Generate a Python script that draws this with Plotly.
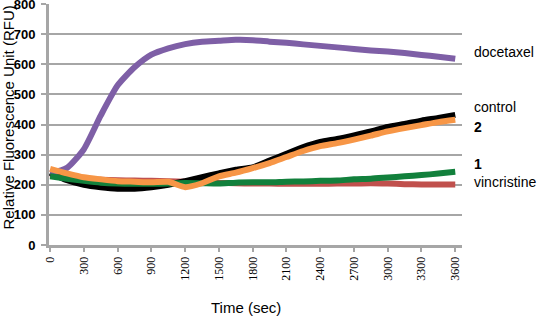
import plotly.graph_objects as go

time_sec = [0, 150, 300, 450, 600, 750, 900, 1050, 1200, 1350, 1500, 1650, 1800,
            1950, 2100, 2250, 2400, 2550, 2700, 2850, 3000, 3150, 3300, 3450, 3600]

docetaxel = [238, 256, 318, 430, 530, 590, 632, 653, 667, 675, 678, 681, 680,
             675, 671, 666, 661, 656, 651, 646, 642, 637, 631, 625, 618]
control = [240, 215, 200, 192, 187, 187, 192, 200, 212, 225, 238, 250, 258,
           280, 303, 325, 342, 352, 364, 377, 392, 402, 413, 422, 432]
cmpd2 = [253, 238, 225, 218, 212, 210, 208, 210, 192, 205, 228, 240, 255,
         272, 292, 312, 328, 338, 350, 363, 377, 388, 398, 408, 416]
cmpd1 = [228, 220, 213, 207, 204, 203, 203, 204, 206, 205, 204, 207, 208,
         208, 210, 211, 213, 214, 218, 220, 224, 228, 232, 237, 243]
vincristine = [235, 226, 220, 217, 215, 214, 213, 212, 210, 208, 206, 205, 204,
               204, 203, 203, 203, 204, 204, 205, 204, 202, 201, 201, 201]

x_ticks = list(range(0, 3601, 300))
y_ticks = list(range(0, 801, 100))

series = [
    ("vincristine", vincristine, "#c0504d"),
    ("control", control, "#000000"),
    ("docetaxel", docetaxel, "#7e5fa6"),
    ("1", cmpd1, "#12803c"),
    ("2", cmpd2, "#f79646"),
]

fig = go.Figure()
for name, vals, color in series:
    fig.add_trace(go.Scatter(
        x=time_sec, y=vals, mode="lines", name=name,
        line=dict(color=color, width=6, shape="spline", smoothing=0.6),
        showlegend=False,
    ))

grid = "#a6a6a6"
fig.update_layout(
    width=540, height=322,
    margin=dict(l=49, r=78, t=4, b=77),
    paper_bgcolor="white", plot_bgcolor="white",
    font=dict(family="Arial, Liberation Sans", color="#000000"),
    xaxis=dict(
        range=[-10, 3660], tickvals=x_ticks, ticktext=[str(v) for v in x_ticks],
        tickangle=-90, showgrid=False, zeroline=False, automargin=False,
        showline=True, linecolor=grid, linewidth=3,
        ticks="outside", ticklen=4, tickwidth=2, tickcolor=grid,
        tickfont=dict(family="Liberation Serif, Times New Roman", size=12, color="#000"),
    ),
    yaxis=dict(
        range=[0, 800], tickvals=y_ticks, ticktext=[f"<b>{v}</b>" for v in y_ticks],
        showgrid=True, gridcolor=grid, gridwidth=2, automargin=False,
        zeroline=False, showline=True, linecolor=grid, linewidth=3,
        ticks="outside", ticklen=5, tickwidth=2, tickcolor=grid,
        tickfont=dict(family="Arial, Liberation Sans", size=13, color="#000"),
        ticklabelstandoff=3, ticklabeloverflow="allow",
    ),
)

labels = [
    ("docetaxel", 641, False),
    ("control", 457, False),
    ("2", 391, True),
    ("1", 270, True),
    ("vincristine", 208, False),
]
for text, yv, bold in labels:
    fig.add_annotation(
        x=1.024, xref="paper", y=yv, yref="y", xanchor="left", yanchor="middle",
        text=f"<b>{text}</b>" if bold else text, showarrow=False,
        font=dict(family="Arial, Liberation Sans", size=14, color="#000"),
    )

fig.add_annotation(
    x=(246 - 49) / 413, xref="paper", y=-(306 - 244) / 240, yref="paper",
    text="Time (sec)", showarrow=False, xanchor="center", yanchor="middle",
    font=dict(family="Arial, Liberation Sans", size=15, color="#000"),
)
fig.add_annotation(
    x=-(49 - 8) / 413, xref="paper", y=(244 - 117) / 240, yref="paper",
    text="Relative Fluorescence Unit (RFU)", showarrow=False, textangle=-90,
    xanchor="center", yanchor="middle",
    font=dict(family="Arial, Liberation Sans", size=15, color="#000"),
)

fig.write_html("out.html", config={"displayModeBar": False},
               post_script="document.body.style.margin='0';")
